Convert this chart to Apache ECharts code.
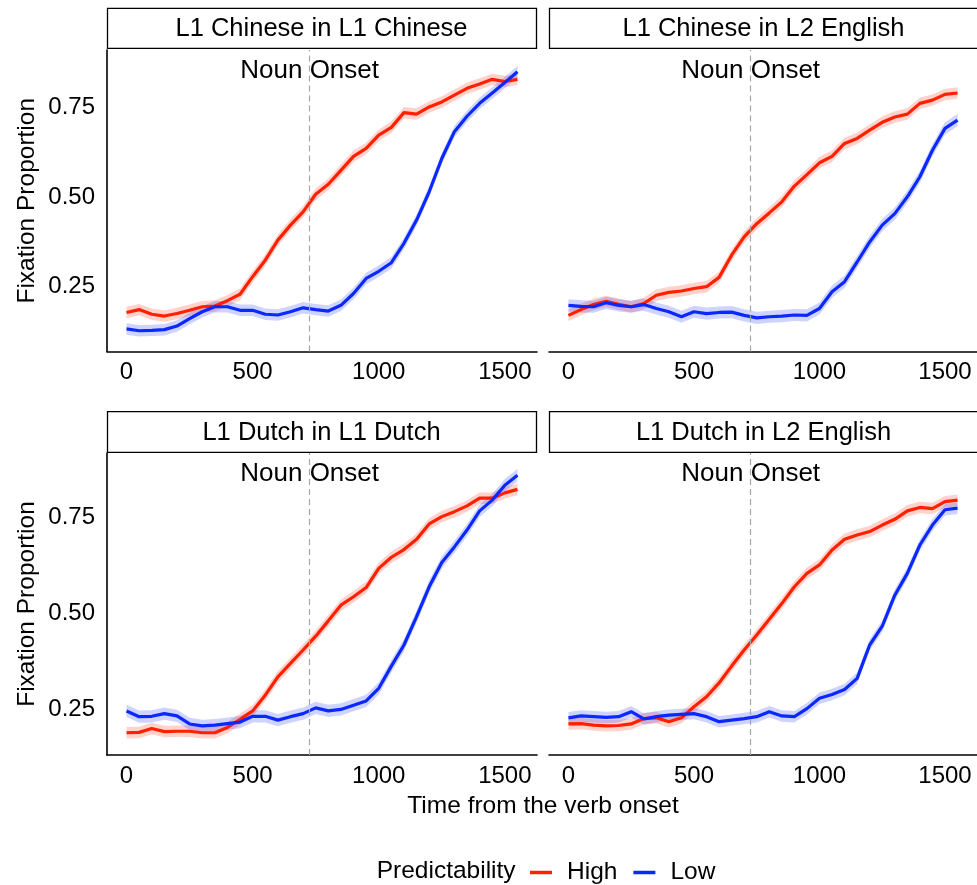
<!DOCTYPE html>
<html><head><meta charset="utf-8">
<script src="https://cdn.jsdelivr.net/npm/echarts@6/dist/echarts.min.js"></script>
<style>html,body{margin:0;padding:0;background:#fff}#c{width:977px;height:885px}</style>
</head><body><div id="c"></div>
<script>
// ---------------- DATA ----------------
const times = [0,50,100,150,200,250,300,350,400,450,500,550,600,650,700,750,800,850,900,950,1000,1050,1100,1150,1200,1250,1300,1350,1400,1450,1500,1550];
const panelTitles = ['L1 Chinese in L1 Chinese','L1 Chinese in L2 English','L1 Dutch in L1 Dutch','L1 Dutch in L2 English'];
const seriesNames = ['High','Low'];
const highCN_L1 = [0.178,0.186,0.173,0.168,0.175,0.184,0.194,0.196,0.211,0.229,0.278,0.324,0.380,0.422,0.459,0.508,0.536,0.575,0.614,0.636,0.673,0.695,0.736,0.732,0.752,0.766,0.785,0.804,0.816,0.829,0.823,0.829];
const lowCN_L1  = [0.132,0.127,0.128,0.130,0.140,0.161,0.180,0.194,0.194,0.184,0.184,0.173,0.171,0.180,0.191,0.186,0.182,0.198,0.231,0.273,0.293,0.317,0.371,0.436,0.515,0.608,0.683,0.726,0.762,0.791,0.820,0.850];
const highCN_L2 = [0.170,0.186,0.200,0.209,0.201,0.194,0.203,0.226,0.234,0.238,0.245,0.250,0.276,0.338,0.389,0.426,0.456,0.487,0.531,0.563,0.596,0.614,0.650,0.664,0.687,0.709,0.724,0.732,0.762,0.771,0.787,0.791];
const lowCN_L2  = [0.198,0.195,0.194,0.205,0.198,0.194,0.200,0.189,0.180,0.166,0.180,0.175,0.178,0.179,0.170,0.163,0.166,0.168,0.171,0.170,0.189,0.236,0.264,0.319,0.375,0.422,0.454,0.501,0.557,0.631,0.692,0.715];
const highNL_L1 = [0.189,0.190,0.200,0.192,0.193,0.193,0.189,0.189,0.203,0.224,0.246,0.287,0.335,0.370,0.405,0.441,0.481,0.522,0.544,0.568,0.618,0.647,0.667,0.694,0.734,0.753,0.766,0.781,0.801,0.801,0.815,0.824];
const lowNL_L1  = [0.246,0.231,0.232,0.239,0.233,0.212,0.207,0.209,0.213,0.217,0.232,0.232,0.222,0.231,0.239,0.254,0.246,0.250,0.261,0.272,0.305,0.363,0.418,0.492,0.570,0.633,0.674,0.718,0.768,0.796,0.835,0.861];
const highNL_L2 = [0.212,0.213,0.209,0.207,0.208,0.212,0.226,0.228,0.218,0.228,0.257,0.283,0.319,0.363,0.405,0.444,0.485,0.526,0.570,0.605,0.627,0.666,0.694,0.705,0.714,0.731,0.746,0.768,0.777,0.774,0.792,0.796];
const lowNL_L2  = [0.228,0.233,0.231,0.229,0.231,0.244,0.225,0.231,0.235,0.237,0.239,0.231,0.218,0.222,0.226,0.231,0.244,0.233,0.231,0.252,0.279,0.289,0.302,0.331,0.418,0.467,0.548,0.605,0.679,0.731,0.771,0.775];
const ribbonHalfHigh = [0.016,0.016,0.015,0.015];
const ribbonHalfLow  = [0.016,0.017,0.016,0.015];
const xTicks = [0,500,1000,1500];
const yTicks = [0.25,0.50,0.75];
const nounOnset = 726;
const xTitle = 'Time from the verb onset';
const yTitle = 'Fixation Proportion';
const legendTitle = 'Predictability';
const onsetLabel = 'Noun Onset';

// ---------------- CONFIG ----------------
const highs = [highCN_L1, highCN_L2, highNL_L1, highNL_L2];
const lows  = [lowCN_L1, lowCN_L2, lowNL_L1, lowNL_L2];
const RED = '#ff2000', BLUE = '#0a28ff';
const FONT = '"Liberation Sans", Arial, Helvetica, sans-serif';
const gridBoxes = [
  {left:107, top:50,  width:430, height:301.5},
  {left:549, top:50,  width:430, height:301.5},
  {left:107, top:453, width:430, height:302},
  {left:549, top:453, width:430, height:302}
];
const yRanges = [[0.069,0.911],[0.069,0.911],[0.131,0.919],[0.131,0.919]];
const xRange = [-77.5, 1627.5];

const chart = echarts.init(document.getElementById('c'), null, {renderer:'canvas'});
const xAxes = [], yAxes = [], series = [];
for (let p = 0; p < 4; p++) {
  const left = p % 2 === 0;
  xAxes.push({
    type:'value', gridIndex:p, min:xRange[0], max:xRange[1],
    axisLine:{show:true, onZero:false, lineStyle:{color:'#000', width:1.6}},
    axisTick:{show:false}, splitLine:{show:false},
    axisLabel:{customValues:xTicks, fontSize:24, color:'#000', fontFamily:FONT, margin:9,
      formatter:v => String(v)}
  });
  yAxes.push({
    type:'value', gridIndex:p, min:yRanges[p][0], max:yRanges[p][1],
    name: left ? yTitle : '', nameLocation:'middle', nameRotate:90, nameGap:67,
    nameTextStyle:{fontSize:24.5, color:'#000', fontFamily:FONT},
    axisLine:{show:left, onZero:false, lineStyle:{color:'#000', width:1.6}},
    axisTick:{show:false}, splitLine:{show:false},
    axisLabel:{show:left, customValues:yTicks, fontSize:24, color:'#000', fontFamily:FONT, margin:12,
      formatter:v => v.toFixed(2)}
  });
  const groups = [[highs[p], ribbonHalfHigh[p], RED, 'High'], [lows[p], ribbonHalfLow[p], BLUE, 'Low']];
  groups.forEach(([vals, se, col, nm]) => {
    const rows = times.map((t,i)=>[t, vals[i]-se, vals[i]+se]);
    series.push({
      type:'custom', xAxisIndex:p, yAxisIndex:p, silent:true, z:1, clip:true,
      encode:{x:0, y:[1,2]},
      data: rows,
      renderItem: (params, api) => {
        if (params.dataIndex !== 0) return null;
        const pts = [];
        for (let i = 0; i < rows.length; i++) pts.push(api.coord([rows[i][0], rows[i][1]]));
        for (let i = rows.length - 1; i >= 0; i--) pts.push(api.coord([rows[i][0], rows[i][2]]));
        return {type:'polygon', shape:{points:pts}, style:{fill:col, opacity:0.2}};
      }
    });
  });
  groups.forEach(([vals, se, col, nm], gi) => {
    const s = {
      type:'line', name:nm, xAxisIndex:p, yAxisIndex:p, symbol:'none', z:3, color:col,
      lineStyle:{color:col, width:3.2}, data: times.map((t,i)=>[t, vals[i]])
    };
    if (gi === 0) {
      s.markLine = {silent:true, symbol:'none', label:{show:false},
        lineStyle:{color:'#a6a6a6', type:[6,4], width:1.2}, data:[{xAxis:nounOnset}]};
    }
    series.push(s);
  });
}

const graphics = [];
gridBoxes.forEach((g, p) => {
  const top = p < 2 ? 8.3 : 411.7;
  const h = p < 2 ? 40 : 40.6;
  graphics.push({type:'rect', shape:{x:g.left+0.5, y:top, width:g.width-1, height:h},
    style:{fill:'#fff', stroke:'#000', lineWidth:1.3}});
  graphics.push({type:'text', x:g.left + 214.5, y:top + h/2 + 0.5,
    style:{text:panelTitles[p], fontSize:25.5, fontFamily:FONT, fill:'#000', textAlign:'center', textVerticalAlign:'middle'}});
});
graphics.push({type:'text', x:543, y:806,
  style:{text:xTitle, fontSize:24.5, fontFamily:FONT, fill:'#000', textAlign:'center', textVerticalAlign:'middle'}});
graphics.push({type:'text', x:515.6, y:871,
  style:{text:legendTitle, fontSize:24.5, fontFamily:FONT, fill:'#000', textAlign:'right', textVerticalAlign:'middle'}});

chart.setOption({
  animation:false,
  backgroundColor:'#fff',
  grid: gridBoxes,
  xAxis: xAxes,
  yAxis: yAxes,
  series: series,
  legend:{data:seriesNames, left:530, top:860, padding:0, icon:'rect', itemWidth:22, itemHeight:3.5, itemGap:16,
    selectedMode:false, textStyle:{fontSize:24.5, color:'#000', fontFamily:FONT, padding:[0,0,0,10]}},
  graphic: graphics
});

// Noun onset annotation placed via the x scale of each panel
const extra = [];
gridBoxes.forEach((g, p) => {
  const px = chart.convertToPixel({xAxisIndex:p}, nounOnset);
  extra.push({type:'text', x:px, y:g.top + 20.5,
    style:{text:onsetLabel, fontSize:26, fontFamily:FONT, fill:'#000', textAlign:'center', textVerticalAlign:'middle'}});
});
chart.setOption({graphic: graphics.concat(extra)});
</script></body></html>
